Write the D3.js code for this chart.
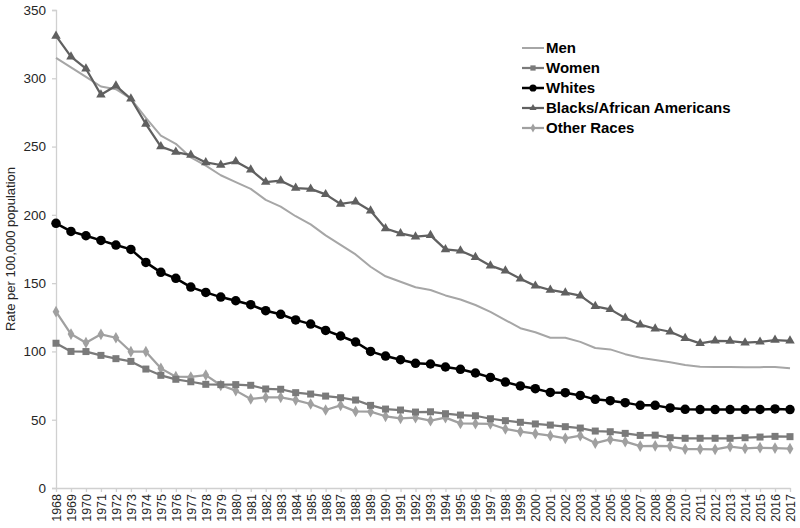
<!DOCTYPE html>
<html>
<head>
<meta charset="utf-8">
<script src="https://cdn.jsdelivr.net/npm/d3@7"></script>
<style>
  html, body { margin: 0; padding: 0; background: #fff; }
  svg { display: block; font-family: "Liberation Sans", Arial, sans-serif; }
</style>
</head>
<body>
<svg id="chart" width="800" height="528"></svg>
<script>
const years = d3.range(1968, 2018);
const yTicks = [0, 50, 100, 150, 200, 250, 300, 350];
const seriesNames = ["Men", "Women", "Whites", "Blacks/African Americans", "Other Races"];

const men = [315, 308, 301, 294, 292, 285, 271, 258, 252, 242, 236, 229, 224, 219, 211, 206, 199, 193, 185, 178, 171, 162, 155, 151, 147, 145, 141, 138, 134, 129, 123, 117, 114, 110, 110, 107, 102.5, 101.5, 98, 95.4, 93.7, 92, 90, 88.8, 88.6, 88.6, 88.4, 88.5, 88.6, 87.6];
const women = [106, 100, 99.9, 97.1, 94.7, 92.7, 87.1, 82.5, 79.6, 77.8, 75.9, 75.7, 75.7, 75.2, 72.5, 72.3, 69.8, 68.8, 67.3, 66.1, 64.4, 60.5, 57.8, 57.1, 55.6, 55.8, 54.4, 53.4, 52.9, 50.7, 49.3, 48.1, 46.9, 46.1, 44.9, 43.9, 41.7, 41.2, 40, 38.5, 38.7, 36.8, 36.4, 36.4, 36.4, 36.4, 36.8, 37.3, 37.8, 37.6];
const whites = [193.8, 187.9, 184.7, 181.3, 177.9, 174.7, 165.2, 157.9, 153.5, 147.1, 143.2, 139.8, 137.1, 134.2, 129.8, 127.2, 123.1, 120, 115.4, 111.3, 106.9, 100, 96.6, 93.9, 91.3, 90.8, 88.6, 86.9, 84.2, 81, 77.6, 74.7, 72.7, 70, 69.8, 67.8, 64.9, 63.9, 62.5, 60.5, 60.5, 58.6, 57.6, 57.4, 57.4, 57.4, 57.4, 57.5, 57.9, 57.4];
const blacks = [331, 315.8, 307, 288, 294.5, 285, 266.5, 250, 246, 243.8, 238.4, 236.5, 239, 233, 224, 225, 219.6, 219, 215, 208, 209.6, 203, 190, 186.4, 184, 185, 174.7, 173.7, 169, 162.8, 159, 153.2, 148, 145, 143, 140.8, 133, 130.8, 124.5, 119.6, 116.6, 114.4, 109.6, 105.9, 107.8, 107.6, 106.4, 107, 108.3, 107.8];
const others = [129.1, 112.7, 106.4, 112.5, 110, 99.8, 99.8, 87.6, 81.5, 81.3, 82.7, 75.2, 71.3, 65.2, 66.4, 66.4, 64.4, 61.5, 57.1, 60.5, 56.1, 55.9, 52.5, 51, 51.5, 49.3, 51.5, 47.3, 47.1, 46.9, 43.2, 41.3, 39.8, 38.3, 36.4, 38.3, 32.9, 35.6, 33.9, 30.7, 30.9, 30.7, 28.5, 28.5, 28.3, 30.3, 29, 29.5, 29.2, 28.8];

const seriesValues = [men, women, whites, blacks, others];
const seriesColors = ["#a6a6a6", "#7a7a7a", "#000000", "#606060", "#a0a0a0"];
const seriesMarkers = [null, "square", "circle", "triangle", "diamond"];
const seriesWidths = [2, 2.25, 2.5, 2.25, 2.25];

const svg = d3.select("#chart");
const x = d3.scalePoint().domain(years).range([56, 790]);
const y = d3.scaleLinear().domain([0, 350]).range([488, 10]);

const axisColor = "#d0d0d0";
const textColor = "#262626";

// Y axis
const yAxis = svg.append("g").attr("transform", "translate(56,0)")
  .call(d3.axisLeft(y).tickValues(yTicks).tickSize(4).tickPadding(6).tickFormat(d3.format("d")));
yAxis.select(".domain").attr("stroke", axisColor).attr("stroke-width", 1.3);
yAxis.selectAll(".tick line").attr("stroke", axisColor).attr("stroke-width", 1.3);
yAxis.selectAll(".tick text").attr("font-size", 13.5).attr("fill", textColor)
  .attr("font-family", "Liberation Sans, Arial, sans-serif");

// X axis
const xAxis = svg.append("g").attr("transform", "translate(0,488)")
  .call(d3.axisBottom(x).tickSize(4).tickSizeOuter(0).tickPadding(4));
xAxis.select(".domain").attr("stroke", axisColor).attr("stroke-width", 1.3);
xAxis.selectAll(".tick line").attr("stroke", axisColor).attr("stroke-width", 1.3);
xAxis.selectAll(".tick text")
  .attr("font-size", 12.5).attr("fill", textColor)
  .attr("font-family", "Liberation Sans, Arial, sans-serif")
  .attr("text-anchor", "end")
  .attr("transform", "rotate(-90)")
  .attr("x", -6).attr("y", 0).attr("dy", "0.35em");

// Y axis title
svg.append("text")
  .attr("transform", "translate(10," + 249 + ") rotate(-90)")
  .attr("text-anchor", "middle")
  .attr("dy", "0.35em")
  .attr("font-size", 13)
  .attr("fill", textColor)
  .text("Rate per 100,000 population");

function markerPath(type, size) {
  const s = size;
  switch (type) {
    case "square": return d3.symbol(d3.symbolSquare, s * s)();
    case "circle": return d3.symbol(d3.symbolCircle, Math.PI * (s / 2) * (s / 2))();
    case "triangle": return d3.symbol(d3.symbolTriangle, s * s * Math.sqrt(3) / 4)();
    case "diamond": return d3.symbol(d3.symbolDiamond, s * s * 0.7)();
  }
  return null;
}
const markerSizes = { square: 7, circle: 9.5, triangle: 9.5, diamond: 7.5 };

const line = d3.line().x((d, i) => x(years[i])).y(d => y(d));

// Draw order: Other, Women, Men, Whites, Blacks (Blacks on top)
const order = [4, 1, 0, 2, 3];
order.forEach(si => {
  const vals = seriesValues[si];
  const g = svg.append("g");
  g.append("path").datum(vals)
    .attr("fill", "none")
    .attr("stroke", seriesColors[si])
    .attr("stroke-width", seriesWidths[si])
    .attr("stroke-linejoin", "round")
    .attr("d", line);
  const m = seriesMarkers[si];
  if (m) {
    g.selectAll("path.mk").data(vals).enter().append("path")
      .attr("class", "mk")
      .attr("d", markerPath(m, markerSizes[m]))
      .attr("fill", seriesColors[si])
      .attr("transform", (d, i) => "translate(" + x(years[i]) + "," + y(d) + ")");
  }
});

// Legend
const legend = svg.append("g").attr("transform", "translate(522,48)");
seriesNames.forEach((name, i) => {
  const row = legend.append("g").attr("transform", "translate(0," + (i * 20) + ")");
  row.append("line").attr("x1", 0).attr("x2", 22).attr("y1", 0).attr("y2", 0)
    .attr("stroke", seriesColors[i]).attr("stroke-width", seriesWidths[i]);
  const m = seriesMarkers[i];
  if (m) {
    row.append("path").attr("d", markerPath(m, markerSizes[m] * 0.75))
      .attr("fill", seriesColors[i]).attr("transform", "translate(11,0)");
  }
  row.append("text").attr("x", 24).attr("y", 0).attr("dy", "0.35em")
    .attr("font-size", 15).attr("font-weight", "bold").attr("fill", "#000")
    .text(name);
});
</script>
</body>
</html>
